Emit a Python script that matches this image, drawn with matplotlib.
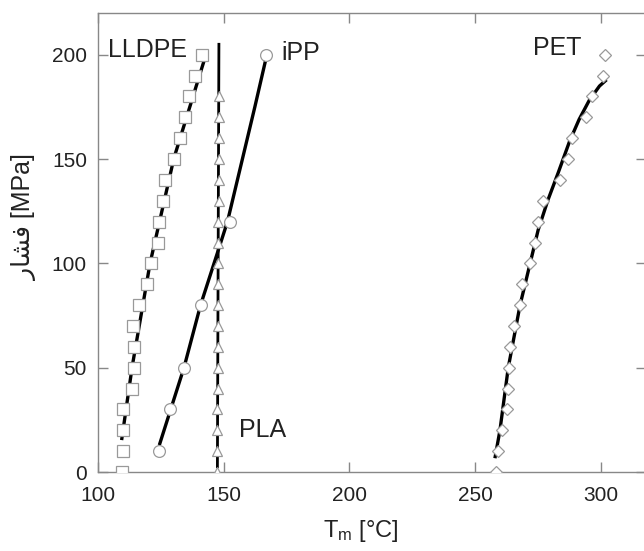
import numpy as np
import matplotlib
matplotlib.use("Agg")
from matplotlib import pyplot as plt

plt.rcParams['font.family'] = ['Liberation Sans', 'DejaVu Sans']
plt.rcParams['mathtext.fontset'] = 'custom'
plt.rcParams['mathtext.rm'] = 'Liberation Sans'
plt.rcParams['mathtext.it'] = 'Liberation Sans'

# pressure levels (MPa) and melting temperatures (C)
p_lldpe = [0, 10, 20, 30, 40, 50, 60, 70, 80, 90, 100, 110, 120, 130, 140, 150, 160, 170, 180, 190, 200]
t_lldpe = [109.5, 109.8, 110.1, 110.1, 113.4, 114.3, 114.3, 114.0, 116.4, 119.6, 121.0,
           124.0, 124.4, 125.7, 126.7, 130.2, 132.6, 134.6, 136.2, 138.6, 141.2]
fit_lldpe_t = [109.4, 113.6, 120.7, 130.2, 142.5]
fit_lldpe_p = [15.3, 50.5, 100, 150.4, 198.3]

p_pla = [0, 10, 20, 30, 40, 50, 60, 70, 80, 90, 100, 110, 120, 130, 140, 150, 160, 170, 180]
t_pla = [147.2, 147.4, 147.5, 147.5, 147.6, 147.6, 147.7, 147.7, 147.8, 147.8, 147.9,
         147.9, 147.9, 148.0, 148.0, 148.0, 148.0, 148.1, 148.1]
fit_pla_t = [147.5, 148.1]
fit_pla_p = [2.5, 205]

p_ipp = [10, 30, 50, 80, 120, 200]
t_ipp = [124.4, 128.6, 134.2, 141.0, 152.5, 166.7]
fit_ipp_t = [124.4, 134.2, 140.8, 147.5, 151.5, 162.4, 166.7]
fit_ipp_p = [12.9, 50, 80, 105, 120, 175, 197.5]

p_pet = [0, 10, 20, 30, 40, 50, 60, 70, 80, 90, 100, 110, 120, 130, 140, 150, 160, 170, 180, 190, 200]
t_pet = [258.2, 259.3, 260.6, 262.6, 263.0, 263.5, 263.9, 265.5, 267.9, 268.8, 271.8,
         273.8, 275.1, 276.9, 283.8, 287.1, 288.7, 294.0, 296.4, 301.0, 301.7]
fit_pet_t = [257.9, 259.9, 263.2, 267.9, 272.3, 275.1, 279.0, 283.0, 287.6, 291.4, 295.5, 299.5, 302.3]
fit_pet_p = [6.6, 20, 50, 80, 102, 116, 130.4, 143.2, 158.5, 169, 178.3, 185, 188]

fig = plt.figure(figsize=(6.44, 5.51), dpi=100)
ax = fig.add_axes([98 / 644, 1 - 472 / 551, 548 / 644, 459 / 551])

line_kw = dict(color='black', lw=2.4, zorder=2, solid_capstyle='butt', solid_joinstyle='round')
mk_kw = dict(ls='none', mfc='white', mec='#999999', mew=0.9, zorder=3)

ax.plot(fit_lldpe_t, fit_lldpe_p, **line_kw)
ax.plot(t_lldpe, p_lldpe, marker='s', ms=8.5, **mk_kw)

ax.plot(fit_pla_t, fit_pla_p, color='black', lw=2.0, zorder=2)
ax.plot(t_pla, p_pla, marker='^', ms=7.5, **mk_kw)

ax.plot(fit_ipp_t, fit_ipp_p, **line_kw)
ax.plot(t_ipp, p_ipp, marker='o', ms=8.5, **mk_kw)

ax.plot(fit_pet_t, fit_pet_p, **line_kw)
ax.plot(t_pet, p_pet, marker='D', ms=6.5, **mk_kw)

txt_kw = dict(fontsize=18, color='#222222', va='center', ha='left')
ax.text(104, 202.5, 'LLDPE', **txt_kw)
ax.text(173, 201, 'iPP', **txt_kw)
ax.text(273, 203, 'PET', **txt_kw)
ax.text(156.2, 20, 'PLA', **txt_kw)

ax.set_xlim(100, 318)
ax.set_ylim(0, 220)
ax.set_xticks([100, 150, 200, 250, 300])
ax.set_yticks([0, 50, 100, 150, 200])

for s in ax.spines.values():
    s.set_color('#888888')
    s.set_linewidth(1.0)

ax.tick_params(axis='both', direction='in', length=7, width=1.0, color='#888888',
               labelsize=15, labelcolor='#222222', top=True, right=True)
ax.tick_params(axis='x', pad=10)
ax.tick_params(axis='y', pad=8)

ax.set_xlabel(r'T$_{\mathrm{m}}$ [°C]', fontsize=17, color='#222222')
ax.xaxis.set_label_coords((361 - 98) / 548, -(518 - 472) / 459)
ax.set_ylabel('\uFEAD\uFE8E\uFEB8\uFED3 [MPa]', fontsize=18, color='#222222',
              family=['Liberation Sans', 'DejaVu Sans'])
ax.yaxis.set_label_coords(-(98 - 37) / 548, (472 - 217) / 459)

fig.savefig('out.png', dpi=100)
